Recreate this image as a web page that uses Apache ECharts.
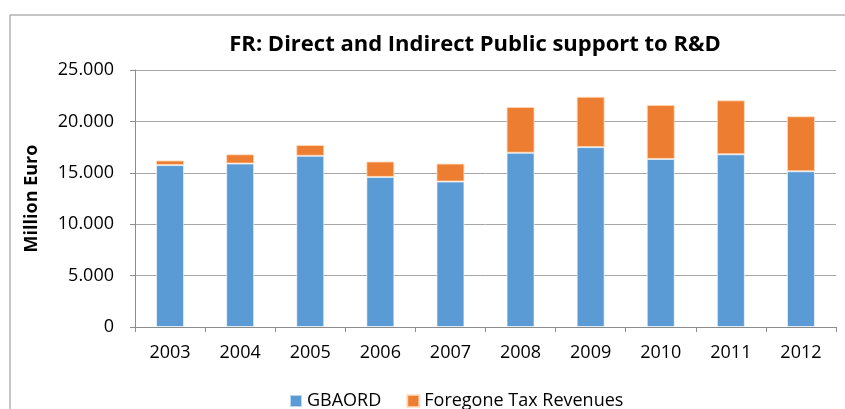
<!DOCTYPE html>
<html lang="en">
<head>
    <meta charset="UTF-8">
    <title>FR: Direct and Indirect Public support to R&amp;D</title>
    <style>
        html, body { margin: 0; padding: 0; background: #fff; }
        .chart { width: 845px; height: 409px; }
    </style>
</head>
<body>
<div class="chart" id="showData"></div>
<script src="https://cdn.jsdelivr.net/npm/echarts@6/dist/echarts.min.js"></script>
<script>
    var years = ['2003', '2004', '2005', '2006', '2007', '2008', '2009', '2010', '2011', '2012'];
    var gbaord = [15750, 15900, 16650, 14600, 14150, 16950, 17500, 16350, 16800, 15150];
    var foregone = [450, 900, 1050, 1500, 1750, 4450, 4900, 5250, 5250, 5350];
    var yTicks = [0, 5000, 10000, 15000, 20000, 25000];

    function fmt(v) {
        // 25000 -> 25.000
        return String(v).replace(/\B(?=(\d{3})+(?!\d))/g, '.');
    }

    var font = '"Open Sans", "Liberation Sans", sans-serif';

    var option = {
        animation: false,
        textStyle: { fontFamily: font },
        title: {
            text: 'FR: Direct and Indirect Public support to R&D',
            left: 470,
            textAlign: 'center',
            top: 29,
            textStyle: { fontFamily: font, fontSize: 22, fontWeight: 'bold', color: '#000' }
        },
        graphic: [{
            type: 'rect',
            shape: { x: 10, y: 15, width: 900, height: 450 },
            style: { fill: 'none', stroke: '#8c8c8c', lineWidth: 1 },
            silent: true,
            z: -1
        }],
        legend: {
            data: ['GBAORD', 'Foregone Tax Revenues'],
            left: 284,
            top: 387,
            itemWidth: 12,
            itemHeight: 12,
            itemGap: 25,
            icon: 'rect',
            textStyle: { fontFamily: font, fontSize: 18, color: '#000' }
        },
        grid: { left: 135, right: 9, top: 70, bottom: 82 },
        xAxis: {
            type: 'category',
            data: years,
            axisLine: { lineStyle: { color: '#8c8c8c' } },
            axisTick: { show: true, length: 5, lineStyle: { color: '#8c8c8c' } },
            axisLabel: { color: '#000', fontSize: 18, margin: 17, fontFamily: font }
        },
        yAxis: {
            type: 'value',
            min: yTicks[0],
            max: yTicks[yTicks.length - 1],
            interval: 5000,
            name: 'Million Euro',
            nameLocation: 'middle',
            nameGap: 94,
            nameRotate: 90,
            nameTextStyle: { fontFamily: font, fontSize: 18, fontWeight: 'bold', color: '#000' },
            axisLine: { show: true, lineStyle: { color: '#8c8c8c' } },
            axisTick: { show: true, length: 5, lineStyle: { color: '#8c8c8c' } },
            axisLabel: { color: '#000', fontSize: 18, margin: 21, fontFamily: font, formatter: fmt },
            splitLine: { lineStyle: { color: '#a6a6a6', width: 1 } }
        },
        series: [{
            name: 'GBAORD',
            type: 'bar',
            stack: 'total',
            barWidth: 28,
            data: gbaord,
            itemStyle: { color: '#5B9BD5', borderColor: 'rgba(255,255,255,0.6)', borderWidth: 1 }
        }, {
            name: 'Foregone Tax Revenues',
            type: 'bar',
            stack: 'total',
            barWidth: 28,
            data: foregone,
            itemStyle: { color: '#ED7D31', borderColor: 'rgba(255,220,190,0.8)', borderWidth: 1 }
        }]
    };

    var mychart = echarts.init(document.getElementById('showData'));
    mychart.setOption(option);
</script>
</body>
</html>
